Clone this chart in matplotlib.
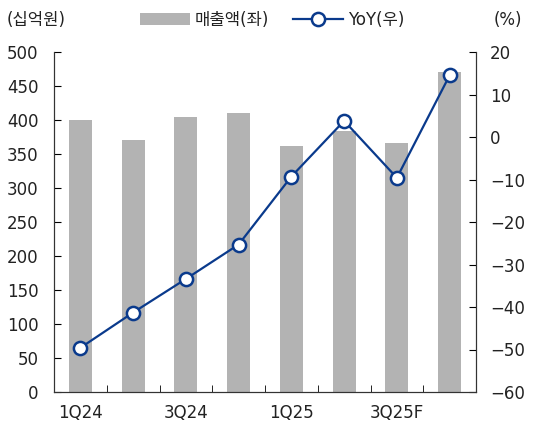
import numpy as np
import matplotlib.pyplot as plt
from matplotlib.ticker import FixedLocator

plt.rcParams['font.family'] = ['DejaVu Sans', 'Noto Sans CJK KR']

quarters = ['1Q24', '2Q24', '3Q24', '4Q24', '1Q25', '2Q25', '3Q25F', '4Q25F']
sales = [400, 371, 404, 411, 362, 384, 366, 470]
yoy = [-49.6, -41.3, -33.4, -25.3, -9.3, 3.8, -9.6, 14.5]

bar_color = '#b3b3b3'
line_color = '#0a3a8c'
txt_color = '#222222'

fig = plt.figure(figsize=(5.53, 4.25), dpi=100)
ax = fig.add_axes([54 / 553, 1 - 392 / 425, 422 / 553, 340 / 425])
ax2 = ax.twinx()

x = np.arange(len(quarters))
b = ax.bar(x, sales, width=0.44, color=bar_color, label='매출액(좌)', zorder=1)
ln, = ax2.plot(x, yoy, color=line_color, lw=1.6, marker='o', ms=9.5,
               mfc='white', mec=line_color, mew=1.8, label='YoY(우)', zorder=3)

ax.set_xlim(-0.5, len(quarters) - 0.5)
ax.set_ylim(0, 500)
ax.set_yticks(np.arange(0, 501, 50))
ax2.set_ylim(-60, 20)
ax2.set_yticks(np.arange(-60, 21, 10))
ax2.set_yticklabels([str(v).replace('-', '\u2212') for v in range(-60, 21, 10)])

ax.set_xticks(x[::2])
ax.set_xticklabels(quarters[::2])
ax.tick_params(axis='x', which='major', length=0, pad=9)
ax.xaxis.set_minor_locator(FixedLocator(x[:-1] + 0.5))
ax.tick_params(axis='x', which='minor', direction='in', length=5)
ax.tick_params(axis='y', direction='in', length=5, pad=11)
ax2.tick_params(axis='y', direction='in', length=5, pad=10)
for a in (ax, ax2):
    a.tick_params(labelsize=12, labelcolor=txt_color)
    a.spines['top'].set_visible(False)
    for s in a.spines.values():
        s.set_color('#333333')

fig.text(7 / 553, 1 - 20 / 425, '(십억원)', fontsize=12, va='center', ha='left',
         color=txt_color)
fig.text(522 / 553, 1 - 20 / 425, '(%)', fontsize=12, va='center', ha='right',
         color=txt_color)
fig.legend(handles=[b, ln], loc='center', bbox_to_anchor=(272 / 553, 1 - 20 / 425),
           ncol=2, frameon=False, fontsize=12, handlelength=3.0,
           columnspacing=1.4, handletextpad=0.3, labelcolor=txt_color)

fig.savefig('out.png', dpi=100)
